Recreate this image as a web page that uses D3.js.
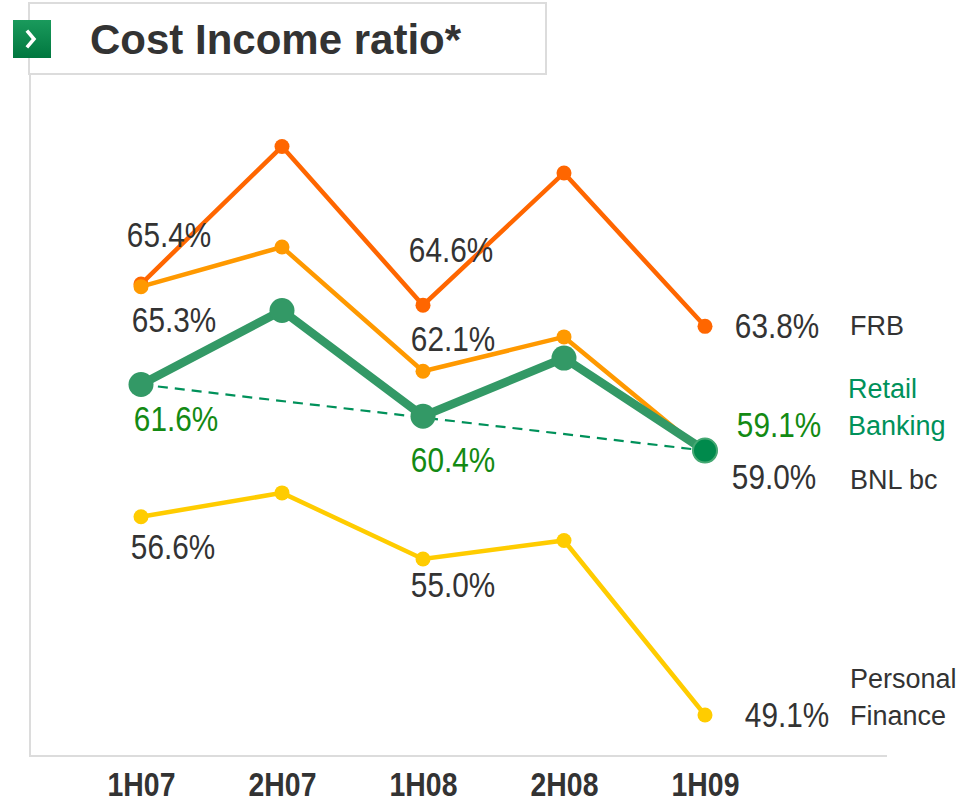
<!DOCTYPE html>
<html>
<head>
<meta charset="utf-8">
<script src="https://cdn.jsdelivr.net/npm/d3@7"></script>
<style>
  html, body { margin: 0; padding: 0; background: #ffffff; }
  svg { display: block; }
  .val { font-family: "Liberation Sans", Arial, sans-serif; font-size: 35px; fill: #333333; }
  .name { font-family: "Liberation Sans", Arial, sans-serif; font-size: 27px; fill: #333333; }
  .cat { font-family: "Liberation Sans", Arial, sans-serif; font-size: 33px; font-weight: bold; fill: #333333; }
</style>
</head>
<body>
<svg id="chart" width="971" height="803"></svg>
<script>
// Half-year periods
const categories = ["1H07", "2H07", "1H08", "2H08", "1H09"];

// Cost/income ratio per business line (%)
const frb = [65.4, 70.6, 64.6, 69.6, 63.8];
const bnl = [65.3, 66.8, 62.1, 63.4, 59.0];
const retail = [61.6, 64.4, 60.4, 62.6, 59.1];
const personalFinance = [56.6, 57.5, 55.0, 55.7, 49.1];

// Periods whose values are printed
const labelledPeriods = [0, 2, 4];

const svg = d3.select("#chart");

const x = d3.scalePoint().domain(categories).range([141, 705]);
const y = d3.scaleLinear().domain([45, 75]).range([823.4, 30.2]);

// Narrow-looking text: regular face squeezed horizontally
function condensed(sel, cx, cy, k) {
  sel.attr("x", 0).attr("y", 0)
    .attr("transform", `translate(${cx},${cy}) scale(${k},1)`);
}

// Frame: title box and the two axis rules
svg.append("rect")
  .attr("x", 29).attr("y", 3).attr("width", 517).attr("height", 71)
  .attr("fill", "#ffffff").attr("stroke", "#dcdcdc").attr("stroke-width", 2);
svg.append("line")
  .attr("x1", 30).attr("x2", 30).attr("y1", 74).attr("y2", 756)
  .attr("stroke", "#dcdcdc").attr("stroke-width", 2);
svg.append("line")
  .attr("x1", 29).attr("x2", 887).attr("y1", 756).attr("y2", 756)
  .attr("stroke", "#dcdcdc").attr("stroke-width", 2);

// Title icon
const defs = svg.append("defs");
const grad = defs.append("linearGradient").attr("id", "iconGrad")
  .attr("x1", 0).attr("y1", 0).attr("x2", 0).attr("y2", 1);
grad.append("stop").attr("offset", "0%").attr("stop-color", "#1a9a5c");
grad.append("stop").attr("offset", "100%").attr("stop-color", "#00773f");
svg.append("rect")
  .attr("x", 13).attr("y", 20).attr("width", 38).attr("height", 38)
  .attr("fill", "url(#iconGrad)");
svg.append("path")
  .attr("d", "M28,32 L34,39 L28,46")
  .attr("fill", "none").attr("stroke", "#ffffff").attr("stroke-width", 3.5)
  .attr("stroke-linecap", "square").attr("stroke-linejoin", "miter");

svg.append("text")
  .attr("x", 90).attr("y", 54)
  .attr("font-family", "'Liberation Sans', Arial, sans-serif")
  .attr("font-size", 42).attr("font-weight", "bold")
  .attr("fill", "#333333")
  .text("Cost Income ratio*");

// Category axis
const axis = svg.append("g")
  .attr("transform", "translate(0,756)")
  .call(d3.axisBottom(x).tickSize(0).tickPadding(0));
axis.select(".domain").remove();
axis.selectAll("text")
  .attr("class", "cat")
  .attr("dy", 0)
  .attr("font-family", null).attr("font-size", null).attr("fill", null)
  .each(function () { condensed(d3.select(this), 0, 40, 0.86); });

const line = d3.line().x((d, i) => x(categories[i])).y(d => y(d));

// Dashed trend between first and last Retail Banking values
const trend = [retail[0], retail[retail.length - 1]];
svg.append("line")
  .attr("x1", x(categories[0])).attr("y1", y(trend[0]))
  .attr("x2", x(categories[categories.length - 1])).attr("y2", y(trend[1]))
  .attr("stroke", "#00915a").attr("stroke-width", 2.2)
  .attr("stroke-dasharray", "10,7");

const series = [
  { values: personalFinance, color: "#ffcc00", width: 4.5, r: 7.5,
    labels: { 0: [32, 42], 2: [30, 38], 4: [82, 12] }, labelColor: "#333333" },
  { values: frb, color: "#ff6600", width: 4.5, r: 7.5,
    labels: { 0: [28, -37], 2: [28, -43], 4: [72, 12] }, labelColor: "#333333" },
  { values: bnl, color: "#ff9900", width: 4.5, r: 7.5,
    labels: { 0: [33, 45], 2: [30, -20], 4: [69, 36] }, labelColor: "#333333" },
  { values: retail, color: "#339966", width: 8.5, r: 12.5,
    labels: { 0: [35, 47], 2: [30, 56], 4: [74, -14] }, labelColor: "#138a13" }
];

series.forEach(s => {
  svg.append("path")
    .datum(s.values)
    .attr("d", line)
    .attr("fill", "none")
    .attr("stroke", s.color)
    .attr("stroke-width", s.width)
    .attr("stroke-linejoin", "miter");
  svg.selectAll(null)
    .data(s.values)
    .enter().append("circle")
    .attr("cx", (d, i) => x(categories[i]))
    .attr("cy", d => y(d))
    .attr("r", s.r)
    .attr("fill", s.color);
});

// Latest Retail Banking point is highlighted
svg.append("circle")
  .attr("cx", x(categories[4])).attr("cy", y(retail[4]))
  .attr("r", 12).attr("fill", "#008a4c")
  .attr("stroke", "#45a873").attr("stroke-width", 2);

// Value labels
series.forEach(s => {
  labelledPeriods.forEach(i => {
    const [dx, dy] = s.labels[i];
    svg.append("text")
      .attr("class", "val")
      .attr("text-anchor", "middle")
      .style("fill", s.labelColor)
      .text(d3.format(".1f")(s.values[i]) + "%")
      .call(condensed, x(categories[i]) + dx, y(s.values[i]) + dy, 0.85);
  });
});

// Series names
const names = [
  { lines: ["FRB"], x: 850, y: 335, color: "#333333" },
  { lines: ["Retail", "Banking"], x: 848, y: 398, color: "#00915a" },
  { lines: ["BNL bc"], x: 850, y: 489, color: "#333333" },
  { lines: ["Personal", "Finance"], x: 850, y: 688, color: "#333333" }
];
names.forEach(n => {
  const t = svg.append("text")
    .attr("class", "name")
    .attr("x", n.x).attr("y", n.y)
    .style("fill", n.color);
  n.lines.forEach((l, k) => {
    t.append("tspan")
      .attr("x", n.x)
      .attr("dy", k === 0 ? 0 : 37)
      .text(l);
  });
});
</script>
</body>
</html>
